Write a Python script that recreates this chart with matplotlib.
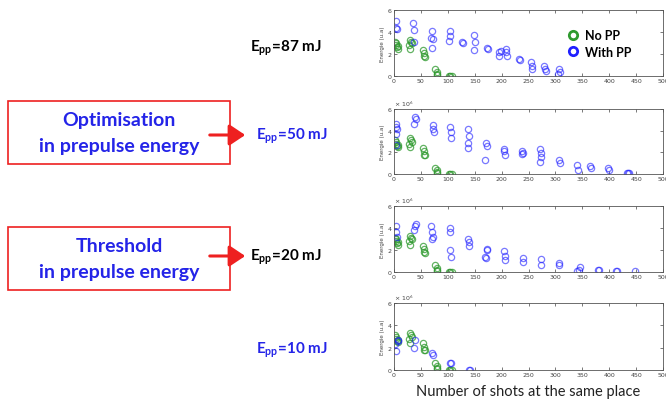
import numpy as np
import matplotlib
matplotlib.use("Agg")
import matplotlib.pyplot as plt
from matplotlib.patches import Rectangle, FancyArrowPatch
from matplotlib.lines import Line2D

plt.rcParams['font.family'] = ['Lato', 'DejaVu Sans']
plt.rcParams['mathtext.fontset'] = 'custom'
plt.rcParams['mathtext.bf'] = 'Lato:bold'
plt.rcParams['mathtext.rm'] = 'Lato'

W, H = 666, 406

# reference without prepulse (same in all panels)
nopp_x = [2, 3, 4, 5, 7, 8, 28, 29, 30, 32, 34, 53, 55, 56, 57, 77, 79, 80, 80, 103, 105, 107]
nopp_y = [3.1, 3.0, 2.8, 2.6, 2.7, 2.5, 2.8, 2.45, 3.3, 3.1, 3.0, 2.4, 1.8, 2.1, 1.75,
          0.6, 0.35, 0.2, 0.1, 0.03, 0.0, 0.02]

# with prepulse, one set per prepulse energy
pp87_x = [3, 4, 5, 36, 37, 38, 68, 70, 72, 70, 103, 104, 105, 126, 128, 148, 150, 149,
          172, 174, 195, 196, 198, 208, 209, 210, 232, 234, 254, 256, 257, 278, 280, 282,
          305, 307, 308]
pp87_y = [5.0, 4.35, 4.3, 4.8, 4.2, 3.1, 3.5, 4.05, 3.35, 2.55, 3.2, 3.6, 4.1, 3.05, 3.0,
          3.7, 3.05, 2.35, 2.55, 2.45, 1.85, 2.15, 2.3, 2.45, 2.15, 1.85, 1.55, 1.5,
          1.25, 0.95, 0.65, 0.95, 0.65, 0.5, 0.15, 0.6, 0.4]

pp50_x = [3, 4, 5, 4, 3, 39, 40, 37, 72, 73, 74, 105, 106, 106, 137, 139, 138, 137,
          171, 172, 169, 204, 205, 206, 237, 238, 239, 271, 273, 272, 274, 307, 308,
          341, 342, 364, 366, 397, 399, 433, 435, 437]
pp50_y = [4.6, 4.3, 4.15, 3.7, 2.7, 5.3, 5.1, 4.6, 4.5, 4.2, 3.85, 4.3, 3.9, 3.3,
          4.15, 3.55, 2.85, 2.4, 2.85, 2.6, 1.3, 2.3, 2.1, 1.8, 2.1, 1.85, 1.95,
          2.3, 1.55, 1.15, 1.95, 1.3, 1.0, 0.85, 0.4, 0.75, 0.6, 0.6, 0.4, 0.1, 0.1, 0.08]

pp20_x = [3, 4, 5, 37, 39, 40, 69, 70, 72, 71, 104, 105, 105, 106, 137, 139, 140,
          172, 173, 170, 171, 204, 206, 207, 239, 240, 273, 274, 306, 307, 341, 344, 346,
          379, 381, 413, 415, 448]
pp20_y = [4.15, 3.6, 3.15, 3.8, 4.15, 4.4, 4.15, 3.65, 3.15, 3.0, 4.0, 3.65, 2.0, 1.4,
          3.0, 2.75, 2.4, 2.1, 2.0, 1.4, 1.25, 1.95, 1.5, 1.1, 1.25, 0.95, 1.2, 0.65,
          0.8, 0.65, 0.05, 0.15, 0.45, 0.2, 0.15, 0.1, 0.08, 0.05]

pp10_x = [2, 3, 7, 8, 39, 37, 71, 72, 105, 106, 139, 141]
pp10_y = [2.3, 1.7, 2.6, 2.7, 2.7, 1.95, 1.5, 1.3, 0.6, 0.65, 0.02, 0.03]

pp_sets = [(pp87_x, pp87_y), (pp50_x, pp50_y), (pp20_x, pp20_y), (pp10_x, pp10_y)]
labels = ["87", "50", "20", "10"]
label_colors = ["black", "#2424e8", "black", "#2424e8"]

green = "#2f9a2f"
blue = "#2020ff"
txt_blue = "#2424e8"
red = "#ee2020"

# panel pixel boxes: (top, bottom) in image rows
panel_rows = [(11, 77), (110, 175), (207, 273), (304, 371)]
x_left, x_right = 394, 663


def fx(px):
    return px / W


def fy(py):
    return 1 - py / H


fig = plt.figure(figsize=(W / 100, H / 100), dpi=100)

for i, (top, bot) in enumerate(panel_rows):
    ax = fig.add_axes([fx(x_left), fy(bot), fx(x_right) - fx(x_left), (bot - top) / H])
    ax.plot(nopp_x, nopp_y, 'o', mfc='none', mec=green, ms=4.5, mew=0.9, alpha=0.75)
    px, py = pp_sets[i]
    ax.plot(px, py, 'o', mfc='none', mec=blue, ms=4.5, mew=0.9, alpha=0.6)
    ax.set_xlim(0, 500)
    ax.set_ylim(0, 6)
    ax.set_xticks(np.arange(0, 501, 50))
    ax.set_yticks([0, 2, 4, 6])
    ax.tick_params(direction='in', length=2, width=0.5, labelsize=4.5, colors='#444444',
                   top=True, right=True, pad=1.5)
    for s in ax.spines.values():
        s.set_linewidth(0.6)
        s.set_color('#555555')
    ax.set_ylabel("Energie (u.a)", fontsize=4, color='#444444', labelpad=2,
                  family='DejaVu Sans')
    for t in ax.get_xticklabels() + ax.get_yticklabels():
        t.set_family('DejaVu Sans')
    if i > 0:
        ax.text(0.0, 1.02, r"× 10$^6$", transform=ax.transAxes, fontsize=4.5,
                color='#444444', family='DejaVu Sans', va='bottom')
    if i == 0:
        handles = [Line2D([], [], ls='none', marker='o', mfc='none', mec=green, ms=6, mew=2),
                   Line2D([], [], ls='none', marker='o', mfc='none', mec=blue, ms=6, mew=2)]
        leg = ax.legend(handles, ["No PP", "With PP"], loc='upper left',
                        bbox_to_anchor=(0.62, 0.8), frameon=False, handlelength=1,
                        handletextpad=0.4, labelspacing=0.35, borderpad=0,
                        prop={'weight': 'bold', 'size': 9})
    if i == 3:
        ax.set_xlabel("Number of shots at the same place", fontsize=10.5, labelpad=5,
                      color='#222222')

# E_pp labels
label_rows = [48, 136, 257, 350]
for lab, row, col in zip(labels, label_rows, label_colors):
    x0 = 250 if col == "black" else 256
    fig.text(fx(x0), fy(row), r"E$_{\mathbf{pp}}$=" + lab + " mJ", fontsize=11,
             fontweight='bold', color=col, va='center', ha='left')

# boxes with explanation
boxes = [(102, 165, "Optimisation", "in prepulse energy", 136),
         (228, 291, "Threshold", "in prepulse energy", 257)]
for top, bot, l1, l2, arow in boxes:
    fig.patches.append(Rectangle((fx(8), fy(bot)), fx(230) - fx(8), (bot - top) / H,
                                 transform=fig.transFigure, fill=False, ec=red, lw=1.2))
    mid = (top + bot) / 2
    fig.text(fx(119), fy(mid - 13), l1, fontsize=14, fontweight='bold', color=txt_blue,
             ha='center', va='center')
    fig.text(fx(119), fy(mid + 13), l2, fontsize=14, fontweight='bold', color=txt_blue,
             ha='center', va='center')
    arr = FancyArrowPatch((fx(207), fy(arow)), (fx(248), fy(arow)),
                          transform=fig.transFigure, arrowstyle='-|>,head_length=6,head_width=4',
                          color=red, lw=2.2, mutation_scale=1.6)
    fig.patches.append(arr)

fig.savefig("out.png", dpi=100)
